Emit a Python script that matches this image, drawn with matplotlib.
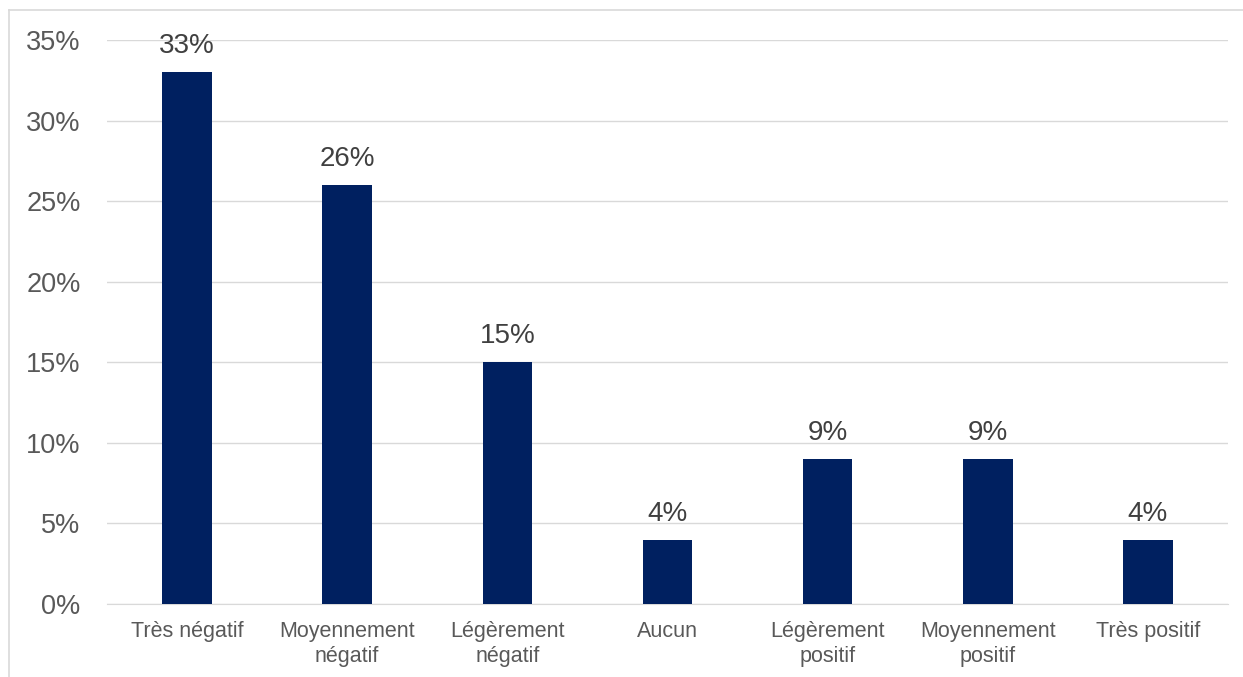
import matplotlib.pyplot as plt
from matplotlib.lines import Line2D
from matplotlib.ticker import PercentFormatter

categories = ["Très négatif", "Moyennement\nnégatif", "Légèrement\nnégatif", "Aucun",
              "Légèrement\npositif", "Moyennement\npositif", "Très positif"]
values = [33, 26, 15, 4, 9, 9, 4]
yticks = [0, 5, 10, 15, 20, 25, 30, 35]

plt.rcParams['font.family'] = ['Liberation Sans', 'DejaVu Sans']
grey = "#595959"

fig = plt.figure(figsize=(12.43, 6.77), dpi=100)
ax = fig.add_axes([107 / 1243, 1 - 604 / 677, 1121 / 1243, 564 / 677])

x = range(len(categories))
bars = ax.bar(x, values, width=0.31, color="#002060", zorder=3)
for b, v in zip(bars, values):
    ax.text(b.get_x() + b.get_width() / 2, v + 0.8, f"{v}%", ha="center", va="bottom",
            fontsize=20, color="#404040")

ax.set_xlim(-0.5, len(categories) - 0.5)
ax.set_ylim(0, 35)
ax.set_yticks(yticks)
ax.yaxis.set_major_formatter(PercentFormatter(decimals=0))
ax.set_xticks(list(x))
ax.set_xticklabels(categories, fontsize=15.5, color=grey, linespacing=1.3)
ax.tick_params(axis="y", labelsize=19.5, labelcolor=grey, length=0, pad=19)
ax.tick_params(axis="x", length=0, pad=12)
ax.grid(axis="y", color="#d9d9d9", linewidth=1, zorder=0)
for s in ["top", "right", "left"]:
    ax.spines[s].set_visible(False)
ax.spines["bottom"].set_color("#d9d9d9")

# chart frame
fig.add_artist(Line2D([9 / 1243, 9 / 1243], [0, 1 - 10 / 677], transform=fig.transFigure,
                      color="#d9d9d9", linewidth=1.2))
fig.add_artist(Line2D([9 / 1243, 1], [1 - 10 / 677, 1 - 10 / 677], transform=fig.transFigure,
                      color="#d9d9d9", linewidth=1.2))

fig.savefig("out.png", dpi=100)
